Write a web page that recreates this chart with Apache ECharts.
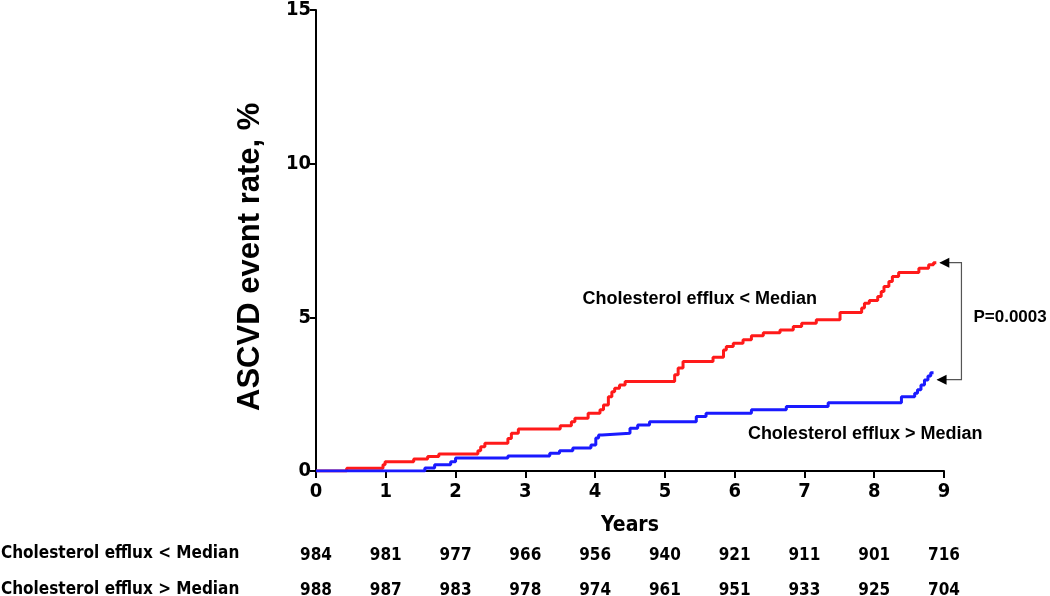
<!DOCTYPE html>
<html>
<head>
<meta charset="utf-8">
<script src="https://cdn.jsdelivr.net/npm/echarts@6/dist/echarts.min.js"></script>
<style>
html,body{margin:0;padding:0;background:#fff;}
#main{width:1050px;height:596px;}
</style>
</head>
<body>
<div id="main"></div>
<script>
// ---- Data ----
const yTicks = [0, 5, 10, 15];
const xTicks = [0, 1, 2, 3, 4, 5, 6, 7, 8, 9];
// Step change points (years) and cumulative event rate (%) for efflux < median
const lowYears = [0, 0.44, 0.96, 0.99, 1.4, 1.6, 1.76, 2.32, 2.36, 2.42, 2.75, 2.8, 2.9, 3.5, 3.66, 3.71, 3.9, 4.07, 4.12, 4.19, 4.24, 4.28, 4.35, 4.43, 5.14, 5.19, 5.26, 5.69, 5.84, 5.88, 5.98, 6.12, 6.24, 6.41, 6.65, 6.84, 6.96, 7.17, 7.51, 7.82, 7.86, 7.93, 8.05, 8.1, 8.14, 8.21, 8.26, 8.35, 8.64, 8.78, 8.85, 8.89];
const lowRate  = [0, 0.09, 0.2, 0.3, 0.39, 0.47, 0.55, 0.66, 0.79, 0.9, 1.06, 1.23, 1.37, 1.47, 1.6, 1.72, 1.88, 1.99, 2.15, 2.42, 2.58, 2.69, 2.8, 2.91, 3.13, 3.35, 3.56, 3.7, 3.94, 4.05, 4.16, 4.27, 4.4, 4.5, 4.59, 4.7, 4.81, 4.92, 5.16, 5.3, 5.46, 5.55, 5.68, 5.84, 6.0, 6.17, 6.33, 6.46, 6.6, 6.71, 6.78, 6.78];
// Efflux > median
const highYears = [0, 1.56, 1.7, 1.93, 2.0, 2.75, 3.35, 3.49, 3.68, 3.94, 4.01, 4.05, 4.1, 4.5, 4.61, 4.78, 5.45, 5.59, 6.24, 6.74, 7.34, 8.39, 8.58, 8.62, 8.67, 8.72, 8.77, 8.81, 8.85];
const highRate  = [0, 0.1, 0.2, 0.3, 0.42, 0.49, 0.58, 0.66, 0.75, 0.85, 1.07, 1.17, 1.23, 1.39, 1.5, 1.6, 1.77, 1.88, 1.99, 2.1, 2.22, 2.42, 2.53, 2.64, 2.8, 2.96, 3.09, 3.2, 3.2];
// Numbers at risk
const rowLabels = ['Cholesterol efflux < Median', 'Cholesterol efflux > Median'];
const atRiskLow  = [984, 981, 977, 966, 956, 940, 921, 911, 901, 716];
const atRiskHigh = [988, 987, 983, 978, 974, 961, 951, 933, 925, 704];
const pText = 'P=0.0003';
const xTitle = 'Years';
const yTitle = 'ASCVD event rate, %';

const NARROW = "'Liberation Sans Narrow','Arial Narrow','DejaVu Sans Condensed',sans-serif";
const ARIAL = "'Liberation Sans',Arial,sans-serif";

const zip = (a, b) => a.map((v, i) => [v, b[i]]);

const chart = echarts.init(document.getElementById('main'), null, {renderer: 'canvas'});

function hiddenAxis(offset, values) {
  return {
    type: 'value', min: 0, max: 9, interval: 1, position: 'bottom', offset: offset,
    axisLine: {show: false}, axisTick: {show: false}, splitLine: {show: false},
    axisLabel: {
      color: '#000', fontFamily: NARROW, fontWeight: 'bold', fontSize: 17,
      formatter: v => (values[v] !== undefined ? String(values[v]) : '')
    }
  };
}

const option = {
  animation: false,
  backgroundColor: '#fff',
  grid: {left: 316, top: 10, width: 628, height: 461, containLabel: false, outerBoundsMode: 'none'},
  xAxis: [
    {
      type: 'value', min: 0, max: 9, interval: 1,
      name: xTitle, nameLocation: 'middle', nameGap: 44,
      nameTextStyle: {color: '#000', fontFamily: NARROW, fontWeight: 'bold', fontSize: 21},
      axisLine: {show: true, lineStyle: {color: '#000', width: 2}},
      axisTick: {show: true, inside: false, length: 7, lineStyle: {color: '#000', width: 2}},
      splitLine: {show: false},
      axisLabel: {color: '#000', fontFamily: NARROW, fontWeight: 'bold', fontSize: 20, margin: 11,
        formatter: v => (xTicks.indexOf(v) >= 0 ? String(v) : '')}
    },
    hiddenAxis(68, atRiskLow),
    hiddenAxis(103, atRiskHigh)
  ],
  yAxis: {
    type: 'value', min: 0, max: 15, interval: 5,
    axisLine: {show: true, lineStyle: {color: '#000', width: 2}},
    axisTick: {show: true, length: 6, lineStyle: {color: '#000', width: 2}},
    splitLine: {show: false},
    axisLabel: {color: '#000', fontFamily: NARROW, fontWeight: 'bold', fontSize: 20, margin: 5,
      formatter: v => (yTicks.indexOf(v) >= 0 ? String(v) : '')}
  },
  series: [
    {
      type: 'line', name: rowLabels[0], step: 'end', showSymbol: false, symbol: 'none',
      data: zip(lowYears, lowRate), lineStyle: {color: '#ff1a1a', width: 3}, z: 3
    },
    {
      type: 'line', name: rowLabels[1], step: 'end', showSymbol: false, symbol: 'none',
      data: zip(highYears, highRate), lineStyle: {color: '#1a1aff', width: 3}, z: 4
    }
  ]
};
chart.setOption(option);

// Annotations positioned through the chart's own scales
const px = (x, y) => chart.convertToPixel({gridIndex: 0}, [x, y]);
const lowEnd = px(lowYears[lowYears.length - 1], lowRate[lowRate.length - 1]);
const highEnd = px(highYears[highYears.length - 1], highRate[highRate.length - 1]);
const bracketX = px(9.25, 0)[0];
const g = [];
// y axis title
const yMid = px(0, 6.97);
g.push({type: 'text', x: 250, y: yMid[1], rotation: Math.PI / 2,
  style: {text: yTitle, fill: '#000', font: "bold 31px " + ARIAL, align: 'center', verticalAlign: 'middle'}, z: 12});
// bracket
const hy = highEnd[1] + 7;
g.push({type: 'polyline', shape: {points: [[lowEnd[0] + 4, lowEnd[1]], [bracketX, lowEnd[1]], [bracketX, hy], [highEnd[0] + 4, hy]]},
  style: {stroke: '#555', lineWidth: 1.2, fill: null}, z: 10});
// arrowheads
function arrow(x, y) {
  return {type: 'polygon', shape: {points: [[x, y], [x + 10, y - 5], [x + 10, y + 5]]}, style: {fill: '#000'}, z: 11};
}
g.push(arrow(lowEnd[0] + 3, lowEnd[1]));
g.push(arrow(highEnd[0] + 3, hy));
const pPos = px(9.0, (lowRate[lowRate.length - 1] + highRate[highRate.length - 1]) / 2);
g.push({type: 'text', x: bracketX + 12, y: pPos[1], style: {text: pText, fill: '#000', font: "bold 17px " + ARIAL, verticalAlign: 'middle'}, z: 12});
// curve labels
const l1 = px(5.5, 5.6);
g.push({type: 'text', x: l1[0], y: l1[1], style: {text: rowLabels[0], fill: '#000', font: "bold 18px " + ARIAL, align: 'center', verticalAlign: 'middle'}, z: 12});
const l2 = px(7.87, 1.2);
g.push({type: 'text', x: l2[0], y: l2[1], style: {text: rowLabels[1], fill: '#000', font: "bold 18px " + ARIAL, align: 'center', verticalAlign: 'middle'}, z: 12});
// at-risk row labels
const rowY = [px(0, 0)[1] + 83, px(0, 0)[1] + 119];
rowLabels.forEach((t, i) => {
  g.push({type: 'text', x: 1, y: rowY[i], style: {text: t, fill: '#000', font: "bold 17px " + NARROW, verticalAlign: 'middle'}, z: 12});
});
chart.setOption({graphic: g});
</script>
</body>
</html>
